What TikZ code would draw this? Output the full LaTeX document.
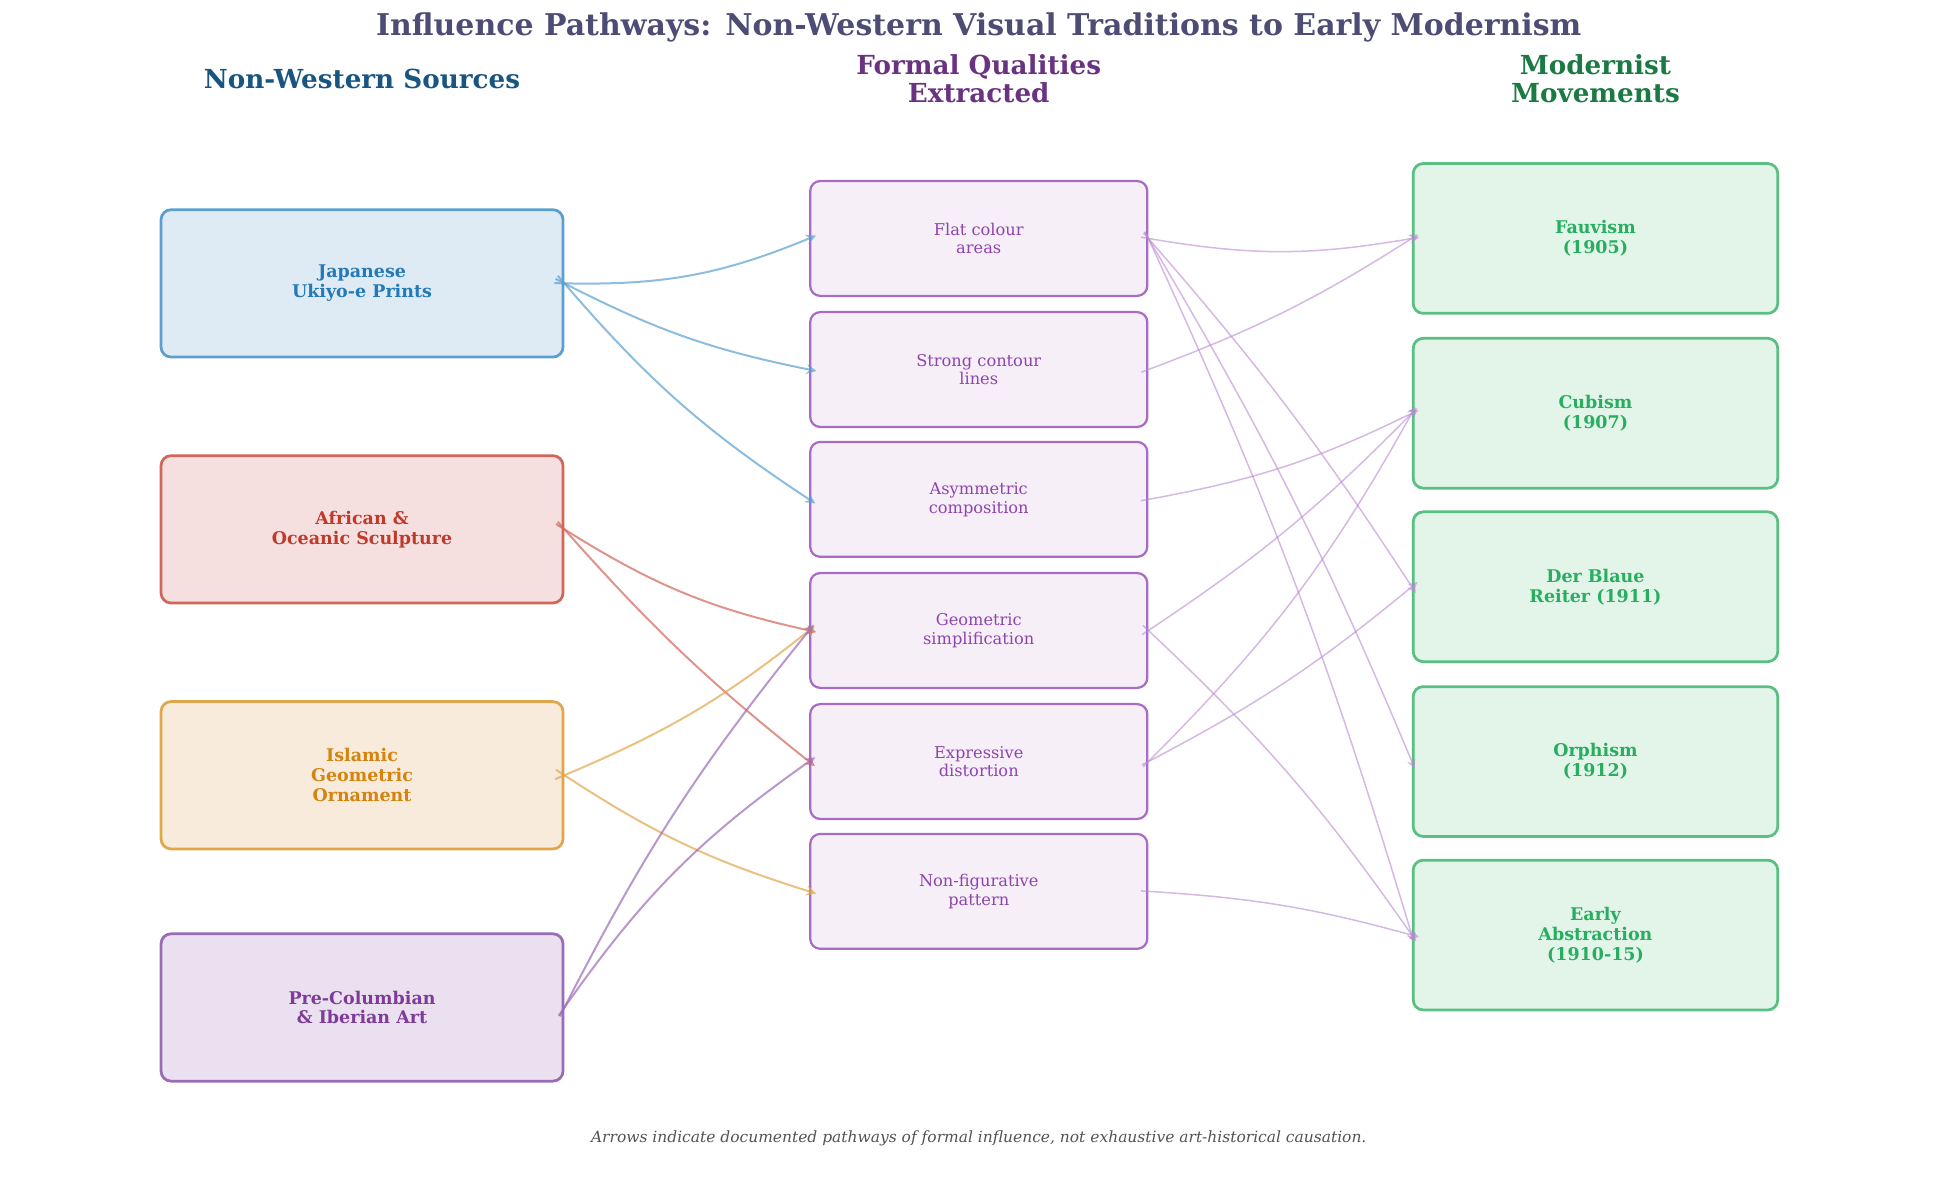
\documentclass[tikz,border=0pt]{standalone}
\usepackage{fontspec}
\setmainfont{DejaVu Serif}
\definecolor{bF}{HTML}{DEEBF5}\definecolor{bD}{HTML}{5B9FD0}\definecolor{bT}{HTML}{2479B8}
\definecolor{rF}{HTML}{F5E0DF}\definecolor{rD}{HTML}{D0675A}\definecolor{rT}{HTML}{C0392B}
\definecolor{oF}{HTML}{F8EBDB}\definecolor{oD}{HTML}{E0A64A}\definecolor{oT}{HTML}{D4840E}
\definecolor{pF}{HTML}{EBE0EF}\definecolor{pD}{HTML}{9B6BB8}\definecolor{pT}{HTML}{7D3C98}
\definecolor{mF}{HTML}{F6EFF8}\definecolor{mD}{HTML}{A86CC6}\definecolor{mT}{HTML}{8E44AD}
\definecolor{gF}{HTML}{E3F4E9}\definecolor{gD}{HTML}{5AC081}\definecolor{gT}{HTML}{27AE60}
\begin{document}
\begin{tikzpicture}[x=0.5pt,y=-0.5pt,
 src/.style={draw=#1D,fill=#1F,text=#1T,line width=1.1pt,rounded corners=4pt,minimum width=161pt,minimum height=59pt,align=center,font=\fontsize{7}{8}\selectfont\bfseries},
 mid/.style={draw=mD,fill=mF,text=mT,line width=0.9pt,rounded corners=4pt,minimum width=135pt,minimum height=46pt,align=center,font=\fontsize{6.5}{7.5}\selectfont},
 mov/.style={draw=gD,fill=gF,text=gT,line width=1.1pt,rounded corners=4pt,minimum width=146pt,minimum height=60pt,align=center,font=\fontsize{7}{8}\selectfont\bfseries},
 hd/.style={align=center,font=\fontsize{10.5}{11}\selectfont\bfseries},
 ar/.style={-stealth,line width=0.8pt,draw=#1,opacity=0.7,shorten >=-3pt,shorten <=-4pt},
 ar2/.style={-stealth,line width=0.6pt,draw=mD!80,opacity=0.6,shorten >=-3pt,shorten <=-3pt}]
\useasboundingbox (0,0) rectangle (1550,949);
\node[font=\fontsize{12}{13}\selectfont\bfseries,text=black!60!blue!40!gray] (t) at (784,22) {Influence Pathways: Non-Western Visual Traditions to Early Modernism};
\node[hd,text=bT!70!black] (h1) at (290,63) {Non-Western Sources};
\node[hd,text=pT!85!black] (h2) at (784,63) {Formal Qualities\\Extracted};
\node[hd,text=gT!70!black] (h3) at (1278,63) {Modernist\\Movements};
\node[src=b] (s1) at (290,227) {Japanese\\Ukiyo-e Prints};
\node[src=r] (s2) at (290,424) {African \&\\Oceanic Sculpture};
\node[src=o] (s3) at (290,621) {Islamic\\Geometric\\Ornament};
\node[src=p] (s4) at (290,807) {Pre-Columbian\\\& Iberian Art};
\node[mid] (m1) at (784,191) {Flat colour\\areas};
\node[mid] (m2) at (784,296) {Strong contour\\lines};
\node[mid] (m3) at (784,400) {Asymmetric\\composition};
\node[mid] (m4) at (784,505) {Geometric\\simplification};
\node[mid] (m5) at (784,610) {Expressive\\distortion};
\node[mid] (m6) at (784,714) {Non-figurative\\pattern};
\node[mov] (g1) at (1278,191) {Fauvism\\(1905)};
\node[mov] (g2) at (1278,331) {Cubism\\(1907)};
\node[mov] (g3) at (1278,470) {Der Blaue\\Reiter (1911)};
\node[mov] (g4) at (1278,610) {Orphism\\(1912)};
\node[mov] (g5) at (1278,749) {Early\\Abstraction\\(1910-15)};
\draw[ar=bD] (s1.east) to[bend right=12] (m1.west);
\draw[ar=bD] (s1.east) to[bend right=8] (m2.west);
\draw[ar=bD] (s1.east) to[bend right=8] (m3.west);
\draw[ar=rD] (s2.east) to[bend right=10] (m4.west);
\draw[ar=rD] (s2.east) to[bend right=5] (m5.west);
\draw[ar=oD] (s3.east) to[bend right=8] (m4.west);
\draw[ar=oD] (s3.east) to[bend right=8] (m6.west);
\draw[ar=pD] (s4.east) to[bend left=6] (m4.west);
\draw[ar=pD] (s4.east) to[bend left=10] (m5.west);
\draw[ar2] (m1.east) to[bend right=10] (g1.west);
\draw[ar2] (m1.east) to[bend left=4] (g3.west);
\draw[ar2] (m1.east) to[bend left=4] (g4.west);
\draw[ar2] (m1.east) to[bend left=4] (g5.west);
\draw[ar2] (m2.east) to[bend right=6] (g1.west);
\draw[ar2] (m3.east) to[bend right=8] (g2.west);
\draw[ar2] (m4.east) to[bend right=6] (g2.west);
\draw[ar2] (m4.east) to[bend left=6] (g5.west);
\draw[ar2] (m5.east) to[bend right=8] (g2.west);
\draw[ar2] (m5.east) to[bend right=6] (g3.west);
\draw[ar2] (m6.east) to[bend left=6] (g5.west);
\node[font=\fontsize{6.2}{7}\selectfont\itshape,text=black!35!gray] (f) at (784,912) {Arrows indicate documented pathways of formal influence, not exhaustive art-historical causation.};
\end{tikzpicture}
\end{document}
